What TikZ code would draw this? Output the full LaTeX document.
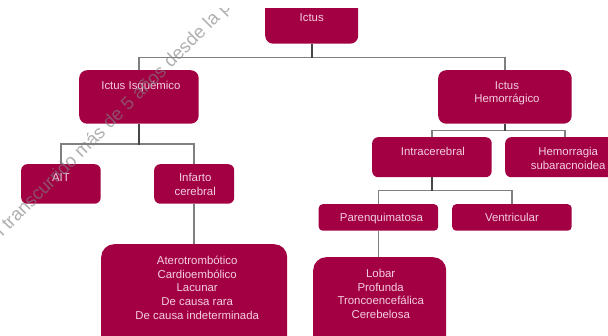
\documentclass[tikz,border=0pt]{standalone}
\usepackage{fontspec}
\setmainfont{Liberation Sans}
\definecolor{wine}{HTML}{A30044}
\definecolor{paletext}{HTML}{F3CFE0}
\newcommand{\boxtext}[5][0]{\parbox[c][#3pt][t]{#2pt}{\centering\leftskip=#1pt plus 1fil\relax\vspace*{#4pt}\rule{0pt}{8pt}#5}}
\tikzset{
  x=1pt,y=-1pt,
  card/.style={fill=wine,text=paletext,inner sep=0pt,anchor=north west,font=\fontsize{11.4}{13.7}\selectfont},
  soft/.style={card,rounded corners=4pt},
  mid/.style={card,rounded corners=6pt},
  large/.style={card,rounded corners=8pt},
  huge/.style={card,rounded corners=13pt},
  link/.style={draw=black!90,draw opacity=.55,line width=1.6pt},
  wmark/.style={text=gray,text opacity=.62,rotate=45,anchor=base west,inner sep=0pt,font=\fontsize{18.5}{20}\selectfont}
}
\begin{document}
\begin{tikzpicture}
\useasboundingbox[fill=white] (0,0) rectangle (608,336);
\begin{scope}
\clip (0,9) rectangle (608,336);
\node[large] (ictus) at (265,-10) {\boxtext{93}{53.5}{23.5}{Ictus}};
\node[large] (isq) at (79,70) {\boxtext[4]{119.5}{53.5}{11}{Ictus Isquémico}};
\node[large] (hem) at (438,70) {\boxtext[4]{133.5}{53.5}{11}{Ictus\\Hemorrágico}};
\node[mid] (ait) at (21,164) {\boxtext{79.5}{39.5}{9}{AIT}};
\node[mid] (inf) at (154,164) {\boxtext[2]{80}{39.5}{9}{Infarto\\cerebral}};
\node[huge] (isqlist) at (101,244) {\boxtext[6]{186}{110}{12}{Aterotrombótico\\Cardioembólico\\Lacunar\\De causa rara\\De causa indeterminada}};
\node[mid] (intra) at (372,137) {\boxtext[2]{119.5}{40}{10}{Intracerebral}};
\node[mid] (hsa) at (505,137) {\boxtext[6]{120}{40}{10}{Hemorragia\\subaracnoidea}};
\node[soft] (par) at (318.5,204) {\boxtext[6]{119.5}{26.5}{9}{Parenquimatosa}};
\node[soft] (ven) at (452,204) {\boxtext{119.5}{26.5}{9}{Ventricular}};
\node[huge] (hemlist) at (313,257) {\boxtext[2]{133}{100}{12}{Lobar\\Profunda\\Troncoencefálica\\Cerebelosa}};
\draw[link] (ictus.south) -- ++(0,13.5) -| (isq.north);
\draw[link] (ictus.south) -- ++(0,13.5) -| (hem.north);
\draw[link] (isq.south) -- ++(0,20) -| (ait.north);
\draw[link] (isq.south) -- ++(0,20) -| (inf.north);
\draw[link] (hem.south) -- ++(0,6.5) -| (intra.north);
\draw[link] (hem.south) -- ++(0,6.5) -| (hsa.north);
\draw[link] (intra.south) -- ++(0,13) -| (par.north);
\draw[link] (intra.south) -- ++(0,13) -| (ven.north);
\draw[link] (inf.south) -- (inf.south |- isqlist.north);
\draw[link] (par.south) -- (par.south |- hemlist.north);
\node[wmark] (water) at (-2,242) {n transcurrido más de 5 años desde la p};
\end{scope}
\end{tikzpicture}
\end{document}
